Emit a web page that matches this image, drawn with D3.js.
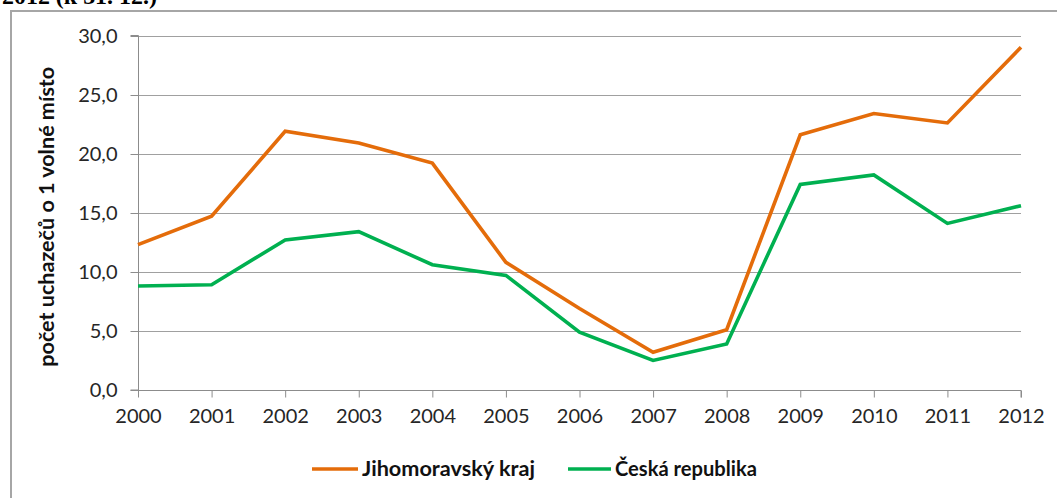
<!DOCTYPE html>
<html><head><meta charset="utf-8">
<script src="https://cdn.jsdelivr.net/npm/d3@7"></script>
<style>body{margin:0;background:#fff;}svg{display:block;}</style>
</head><body>
<svg id="c" width="1057" height="498"></svg>
<script>
const years = [2000,2001,2002,2003,2004,2005,2006,2007,2008,2009,2010,2011,2012];
const jihomoravsky = [12.3,14.7,21.9,20.9,19.2,10.8,6.9,3.2,5.1,21.6,23.4,22.6,29.0];
const ceskaRepublika = [8.8,8.9,12.7,13.4,10.6,9.7,4.9,2.5,3.9,17.4,18.2,14.1,15.6];
const yTicks = [0,5,10,15,20,25,30];
const seriesNames = ["Jihomoravský kraj","Česká republika"];
const colors = ["#E46C0A","#00B050"];

const svg = d3.select("#c");
const font = "Lato, 'Open Sans', sans-serif";
const m = {l:138, r:1021, t:35.5, b:390};
const x = d3.scaleLinear().domain([2000,2012]).range([m.l,m.r]);
const y = d3.scaleLinear().domain([0,30]).range([m.b,m.t]);

function fitWidth(sel, w){
  const n = sel.node(); const fs = +sel.attr("font-size");
  const L = n.getComputedTextLength();
  if (L > 0) sel.attr("font-size", fs * w / L);
}

// caption fragment at top
const cap = svg.append("text").attr("x",2).attr("y",4).attr("font-family","'Liberation Serif', serif")
  .attr("font-weight","bold").attr("font-size",20).attr("fill","#000").text("2012 (k 31. 12.)");
fitWidth(cap, 155);

// frame
svg.append("path").attr("d","M11,1100V11H1100").attr("fill","none").attr("stroke","#a6a6a6").attr("stroke-width",2);

// gridlines
svg.append("g").selectAll("line").data(yTicks.slice(1)).join("line")
  .attr("x1",m.l).attr("x2",m.r).attr("y1",d=>Math.round(y(d))+0.5).attr("y2",d=>Math.round(y(d))+0.5)
  .attr("stroke","#a0a0a0").attr("stroke-width",1.2);

// y axis
const ya = svg.append("g").attr("transform",`translate(${m.l+0.5},0)`)
  .call(d3.axisLeft(y).tickValues(yTicks).tickSize(8).tickPadding(13).tickFormat(d=>d3.format(".1f")(d).replace(".",",")));
ya.selectAll("text").attr("font-family",font).attr("font-size",20).attr("fill","#262626");
ya.selectAll("line,path").attr("stroke","#8c8c8c");
ya.select(".domain").attr("d",`M-8,${y(30)}H0V${m.b}H-8`);
ya.selectAll(".tick").attr("transform",d=>`translate(0,${Math.round(y(d))+0.5})`);

// x axis
const xa = svg.append("g").attr("transform",`translate(0,${m.b+0.5})`)
  .call(d3.axisBottom(x).tickValues(years).tickSize(7).tickPadding(11).tickFormat(d3.format("d")));
xa.selectAll("text").attr("font-family",font).attr("font-size",20).attr("fill","#262626");
xa.selectAll("line,path").attr("stroke","#8c8c8c");
xa.select(".domain").attr("d",`M${m.l},0H${m.r}V7`);

// y label
const yl = svg.append("text").attr("transform",`translate(54,${(m.t+m.b)/2+4}) rotate(-90)`)
  .attr("text-anchor","middle").attr("font-family",font).attr("font-weight","bold")
  .attr("font-size",19).attr("fill","#111").text("počet uchazečů o 1 volné místo");
fitWidth(yl, 300);

// lines
const line = d3.line().x((d,i)=>x(years[i])).y(d=>y(d));
[jihomoravsky, ceskaRepublika].forEach((s,i)=>{
  svg.append("path").datum(s).attr("d",line).attr("fill","none")
    .attr("stroke",colors[i]).attr("stroke-width",3.6).attr("stroke-linejoin","miter");
});

// legend
const leg = [{x1:312,x2:358,tx:362,w:173},{x1:568,x2:611,tx:615,w:142}];
leg.forEach((l,i)=>{
  svg.append("line").attr("x1",l.x1).attr("x2",l.x2).attr("y1",469).attr("y2",469)
    .attr("stroke",colors[i]).attr("stroke-width",3.6);
  const t = svg.append("text").attr("x",l.tx).attr("y",476).attr("font-family",font).attr("font-weight","bold")
    .attr("font-size",19).attr("fill","#111").text(seriesNames[i]);
  fitWidth(t, l.w);
});
</script>
</body></html>
